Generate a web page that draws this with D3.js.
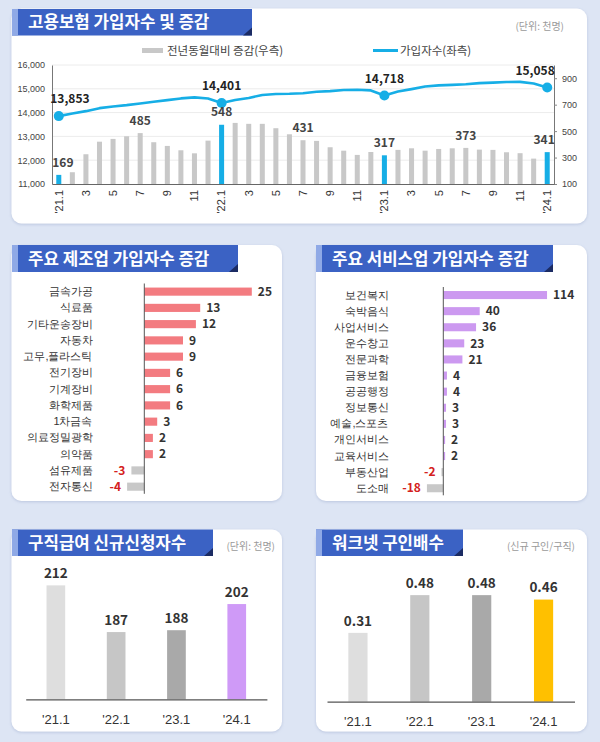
<!DOCTYPE html>
<html><head><meta charset="utf-8">
<script src="https://cdn.jsdelivr.net/npm/d3@7"></script>
<style>
html,body{margin:0;padding:0;background:#dde5f4;}
svg{display:block;font-family:"Noto Sans CJK KR","Noto Sans",sans-serif;}
</style></head><body>
<svg id="c" width="600" height="742"></svg>
<script>
// ---------- DATA ----------
const months = ["'21.1","'21.2","'21.3","'21.4","'21.5","'21.6","'21.7","'21.8","'21.9","'21.10","'21.11","'21.12",
  "'22.1","'22.2","'22.3","'22.4","'22.5","'22.6","'22.7","'22.8","'22.9","'22.10","'22.11","'22.12",
  "'23.1","'23.2","'23.3","'23.4","'23.5","'23.6","'23.7","'23.8","'23.9","'23.10","'23.11","'23.12",
  "'24.1"];
const subscribers = [13853,13964,14061,14187,14258,14314,14385,14453,14524,14596,14638,14590,
  14401,14526,14616,14742,14780,14790,14816,14879,14902,14948,14958,14932,
  14718,14884,14986,15094,15145,15163,15189,15239,15260,15288,15291,15224,
  15058];
const yoyChange = [169,189,325,420,441,461,485,416,388,355,332,428,
  548,562,555,555,522,476,431,426,378,352,320,342,
  317,358,370,352,365,370,373,360,358,340,333,292,
  341];
const highlightMonths = ["'21.1","'22.1","'23.1","'24.1"];
const labeledBars = ["'21.1","'21.7","'22.1","'22.7","'23.1","'23.7","'24.1"];
const leftTicks = [11000,12000,13000,14000,15000,16000];
const rightTicks = [100,300,500,700,900];

const mfgCategories = ["금속가공","식료품","기타운송장비","자동차","고무,플라스틱","전기장비","기계장비","화학제품","1차금속","의료정밀광학","의약품","섬유제품","전자통신"];
const mfgValues = [25,13,12,9,9,6,6,6,3,2,2,-3,-4];
const svcCategories = ["보건복지","숙박음식","사업서비스","운수창고","전문과학","금융보험","공공행정","정보통신","예술,스포츠","개인서비스","교육서비스","부동산업","도소매"];
const svcValues = [114,40,36,23,21,4,4,3,3,2,2,-2,-18];

const years = ["'21.1","'22.1","'23.1","'24.1"];
const claimants = [212,187,188,202];
const jobRatio = [0.31,0.48,0.48,0.46];

// ---------- STYLE ----------
const BLUE = "#16aee6", GRAY = "#c8c8c8";
const svg = d3.select("#c");
const defs = svg.append("defs");
const f = defs.append("filter").attr("id","sh").attr("x","-5%").attr("y","-5%").attr("width","110%").attr("height","115%");
f.append("feDropShadow").attr("dx",0).attr("dy",1).attr("stdDeviation",1.5).attr("flood-color","#8f9fc4").attr("flood-opacity",0.45);

svg.append("rect").attr("width",600).attr("height",742).attr("fill","#dde5f4");

function panel(x,y,w,h){
  svg.append("rect").attr("x",x).attr("y",y).attr("width",w).attr("height",h).attr("rx",10)
    .attr("fill","#fff").attr("filter","url(#sh)");
}
function tab(x,y,w,h,text){
  const g = svg.append("g");
  g.append("rect").attr("x",x).attr("y",y).attr("width",w).attr("height",h).attr("fill","#3b62c4");
  g.append("rect").attr("x",x).attr("y",y).attr("width",6).attr("height",h).attr("fill","#8fa9e6");
  g.append("path").attr("d",`M${x+w},${y+h-8}L${x+w},${y+h}L${x+w-9},${y+h}Z`).attr("fill","#1b2b63");
  g.append("text").attr("x",x+16).attr("y",y+h/2+6).attr("fill","#fff")
    .attr("font-size",16.8).attr("font-weight",700).text(text);
}
function note(x,y,text){
  svg.append("text").attr("x",x).attr("y",y).attr("text-anchor","end").attr("font-size",10)
    .attr("fill","#9a9a9a").text(text);
}

// panels
panel(11.5,8.5,575.5,215);
panel(11.5,245,270.5,256);
panel(316,245,271,256);
panel(11.5,529.5,270.5,202);
panel(316,529.5,271,202);

// ---------- TOP CHART ----------
const x1 = d3.scaleBand().domain(months).range([52,554]).paddingInner(0.63).paddingOuter(0.315);
const bw = x1.bandwidth();
const yL = d3.scaleLinear().domain([11000,16000]).range([184,65]);
const yR = d3.scaleLinear().domain([100,1000]).range([184,65]);
const gTop = svg.append("g");

gTop.selectAll("line.grid").data(leftTicks.slice(1)).join("line").attr("class","grid")
  .attr("x1",52).attr("x2",554).attr("y1",d=>yL(d)).attr("y2",d=>yL(d))
  .attr("stroke","#ececec").attr("stroke-width",1);

gTop.selectAll("rect.bar").data(months).join("rect").attr("class","bar")
  .attr("x",d=>x1(d)).attr("width",bw)
  .attr("y",(d,i)=>yR(yoyChange[i])).attr("height",(d,i)=>yR(100)-yR(yoyChange[i]))
  .attr("fill",d=>highlightMonths.includes(d)?BLUE:GRAY);

// axes
const axL = gTop.append("g").attr("transform","translate(52,0)")
  .call(d3.axisLeft(yL).tickValues(leftTicks).tickFormat(d3.format(",")).tickSize(0).tickSizeOuter(0).tickPadding(7));
axL.select(".domain").attr("stroke","#777");
axL.selectAll("text").attr("font-size",9).attr("fill","#444");
const axR = gTop.append("g").attr("transform","translate(554,0)")
  .call(d3.axisRight(yR).tickValues(rightTicks).tickSize(3).tickSizeOuter(0).tickPadding(5));
axR.select(".domain").attr("stroke","#777");
axR.selectAll("line").attr("stroke","#888");
axR.selectAll("text").attr("font-size",9).attr("fill","#444");
const oddMonths = months.filter(m=>(+m.split(".")[1])%2===1);
const axB = gTop.append("g").attr("transform","translate(0,184)")
  .call(d3.axisBottom(x1).tickValues(oddMonths).tickSize(0).tickSizeOuter(0)
    .tickFormat(m=>{const mo=m.split(".")[1]; return mo==="1"?m:mo;}));
axB.select(".domain").attr("stroke","#666").attr("stroke-width",1.2);
axB.selectAll("text").attr("transform","rotate(-90)").attr("text-anchor","end")
  .attr("x",-6).attr("y",0).attr("dy","0.35em").attr("font-size",11).attr("fill","#333");

// line
const line = d3.line().x((d,i)=>x1(months[i])+bw/2).y(d=>yL(d));
gTop.append("path").datum(subscribers).attr("d",line).attr("fill","none")
  .attr("stroke",BLUE).attr("stroke-width",2.6).attr("stroke-linejoin","round");
gTop.selectAll("circle.pt").data(highlightMonths).join("circle").attr("class","pt")
  .attr("cx",d=>x1(d)+bw/2).attr("cy",d=>yL(subscribers[months.indexOf(d)])).attr("r",5)
  .attr("fill",BLUE);
const first = months[0], last = months[months.length-1];
gTop.selectAll("text.lv").data(highlightMonths).join("text").attr("class","lv")
  .attr("x",d=> d===first ? x1(d)-6 : d===last ? x1(d)+bw+5 : x1(d)+bw/2)
  .attr("text-anchor",d=> d===first ? "start" : d===last ? "end" : "middle")
  .attr("y",d=>yL(subscribers[months.indexOf(d)])-17)
  .attr("dy","0.35em").attr("font-size",12).attr("font-weight",700)
  .attr("fill","#222").text(d=>d3.format(",")(subscribers[months.indexOf(d)]));
gTop.selectAll("text.bv").data(labeledBars).join("text").attr("class","bv")
  .attr("x",d=> d===first ? x1(d)-4 : d===last ? x1(d)+bw+5 : x1(d)+bw/2)
  .attr("text-anchor",d=> d===first ? "start" : d===last ? "end" : "middle")
  .attr("y",d=>yR(yoyChange[months.indexOf(d)])-12.5)
  .attr("dy","0.35em").attr("font-size",12).attr("font-weight",600)
  .attr("fill","#444").text(d=>yoyChange[months.indexOf(d)]);

// legend
gTop.append("rect").attr("x",142).attr("y",48).attr("width",21).attr("height",5).attr("fill",GRAY);
gTop.append("text").attr("x",167).attr("y",50.5).attr("dy","0.35em").attr("font-size",11.5).attr("fill","#444").text("전년동월대비 증감(우측)");
gTop.append("line").attr("x1",373).attr("x2",398).attr("y1",50.5).attr("y2",50.5).attr("stroke",BLUE).attr("stroke-width",3);
gTop.append("text").attr("x",400).attr("y",50.5).attr("dy","0.35em").attr("font-size",11.5).attr("fill","#444").text("가입자수(좌측)");
note(564,30,"(단위: 천명)");
tab(12,9,240,26.5,"고용보험 가입자수 및 증감");

// ---------- HORIZONTAL BAR CHARTS ----------
function hbar(cats, vals, yRange, xDom, xRange, labelX, color){
  const g = svg.append("g");
  const y = d3.scaleBand().domain(cats).range(yRange).paddingInner(0.5).paddingOuter(0.25);
  const x = d3.scaleLinear().domain(xDom).range(xRange);
  g.selectAll("rect").data(cats).join("rect")
    .attr("x",(d,i)=>Math.min(x(0),x(vals[i]))).attr("width",(d,i)=>Math.abs(x(vals[i])-x(0)))
    .attr("y",d=>y(d)).attr("height",y.bandwidth())
    .attr("fill",(d,i)=>vals[i]>=0?color:GRAY);
  g.append("line").attr("x1",x(0)).attr("x2",x(0)).attr("y1",yRange[0]).attr("y2",yRange[1]-1)
    .attr("stroke","#555").attr("stroke-width",1);
  const ax = g.append("g").attr("transform",`translate(${labelX},0)`)
    .call(d3.axisLeft(y).tickSize(0).tickPadding(0));
  ax.select(".domain").remove();
  ax.selectAll("text").attr("font-size",11).attr("fill","#333");
  g.selectAll("text.v").data(cats).join("text").attr("class","v")
    .attr("x",(d,i)=>vals[i]>=0?x(vals[i])+6:x(vals[i])-6)
    .attr("y",d=>y(d)+y.bandwidth()/2).attr("dy","0.35em")
    .attr("text-anchor",(d,i)=>vals[i]>=0?"start":"end")
    .attr("font-size",12).attr("font-weight",700)
    .attr("fill",(d,i)=>vals[i]>=0?"#333":"#d42020")
    .text((d,i)=>vals[i]);
}
hbar(mfgCategories, mfgValues, [283.5,494.8], [-10,30], [101.3,273.3], 92.5, "#f37b80");
hbar(svcCategories, svcValues, [287,496.3], [-40,130], [406.9,561.6], 388.5, "#cc99f0");
tab(12,245,226,27,"주요 제조업 가입자수 증감");
tab(316,245,237,27,"주요 서비스업 가입자수 증감");

// ---------- VERTICAL BAR CHARTS ----------
function vbar(vals, xRange, yDom, yRange, colors, fmt){
  const g = svg.append("g");
  const x = d3.scaleBand().domain(years).range(xRange).paddingInner(0.69).paddingOuter(0.345);
  const y = d3.scaleLinear().domain(yDom).range(yRange);
  g.selectAll("rect").data(years).join("rect")
    .attr("x",d=>x(d)).attr("width",x.bandwidth())
    .attr("y",(d,i)=>y(vals[i])).attr("height",(d,i)=>y(yDom[0])-y(vals[i]))
    .attr("fill",(d,i)=>colors[i]);
  const ax = g.append("g").attr("transform",`translate(0,${yRange[0]})`)
    .call(d3.axisBottom(x).tickSize(0).tickSizeOuter(0).tickPadding(15));
  ax.select(".domain").attr("stroke","#555").attr("stroke-width",1.2);
  ax.selectAll("text").attr("font-size",13).attr("font-weight",500).attr("fill","#333");
  g.selectAll("text.v").data(years).join("text").attr("class","v")
    .attr("x",d=>x(d)+x.bandwidth()/2).attr("y",(d,i)=>y(vals[i])-12).attr("dy","0.35em")
    .attr("text-anchor","middle").attr("font-size",13.5).attr("font-weight",700).attr("fill","#333")
    .text((d,i)=>fmt(vals[i]));
}
vbar(claimants, [25.7,266.9], [151,231], [699.3,549.9], ["#dedede","#c6c6c6","#a9a9a9","#cf9af7"], d=>d);
vbar(jobRatio, [327,574.5], [0,0.6], [701.7,568.5], ["#dedede","#c6c6c6","#a9a9a9","#ffc000"], d3.format(".2f"));
tab(12,529.5,201,26.5,"구직급여 신규신청자수");
tab(316,529.5,147,26.5,"워크넷 구인배수");
note(275,549.5,"(단위: 천명)");
note(575,550,"(신규 구인/구직)");
</script>
</body></html>
